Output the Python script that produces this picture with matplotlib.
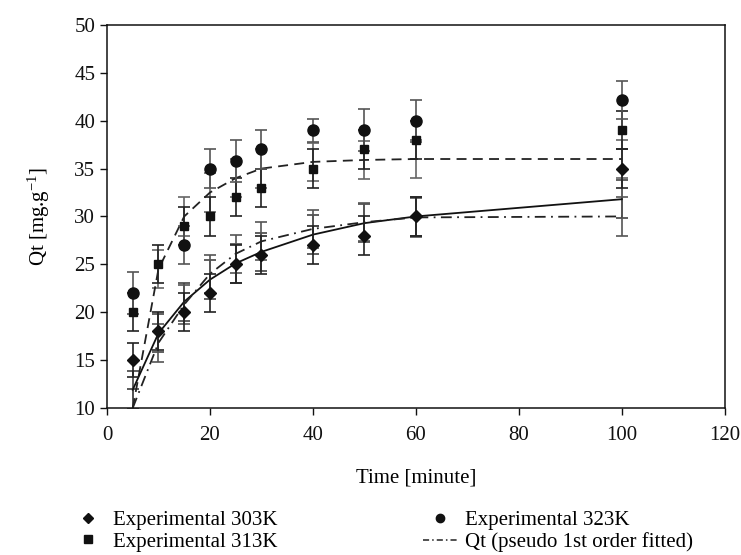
import numpy as np
import matplotlib
matplotlib.use("Agg")
import matplotlib.pyplot as plt
from matplotlib.lines import Line2D

plt.rcParams['font.family'] = ['Liberation Serif', 'DejaVu Serif']
plt.rcParams['mathtext.fontset'] = 'custom'
plt.rcParams['mathtext.rm'] = 'Liberation Serif'
plt.rcParams['mathtext.it'] = 'Liberation Serif:italic'

# Contact time (minutes)
time = [5, 10, 15, 20, 25, 30, 40, 50, 60, 100]

# Experimental uptake Qt (mg/g) at three temperatures
qt_303 = [15, 18, 20, 22, 25, 26, 27, 28, 30, 35]
qt_313 = [20, 25, 29, 30, 32, 33, 35, 37, 38, 39]
qt_323 = [22, np.nan, 27, 35, 35.8, 37, 39, 39, 40, 42.2]

err_303 = [1.8, 2.0, 2.0, 2.0, 2.0, 2.0, 2.0, 2.0, 2.0, 2.0]
err_313 = [2.0, 2.0, 2.0, 2.0, 2.0, 2.0, 2.0, 2.0, 2.0, 2.0]
err_323 = [2.2, 2.0, 2.0, 2.0, 2.2, 2.0, 1.2, 2.2, 2.2, 2.0]

# Fitted kinetic model curves
fit_dashed = [10, 24.5, 30, 32.5, 34, 35, 35.7, 35.9, 36, 36]
fit_solid = [11.9, 17.8, 21.1, 23.4, 25.1, 26.3, 28.1, 29.3, 30.0, 31.8]
fit_pfo = [10, 16.8, 20.8, 24.0, 26.1, 27.4, 28.7, 29.4, 29.9, 30.0]

err_dashed = [2.0] * 10
err_solid = [2.0] * 10
err_pfo = [2.0] * 10

fig = plt.figure(figsize=(7.41, 5.55), dpi=100)
ax = fig.add_axes([0.1444, 0.265, 0.978 - 0.1444, 0.955 - 0.265])

eb_kw = dict(fmt='none', capsize=4, elinewidth=1.2, capthick=1.2)

# Error bars on the fitted curves
ax.errorbar(time, fit_dashed, yerr=err_dashed, ecolor='#666666', **eb_kw)
ax.errorbar(time, fit_solid, yerr=err_solid, ecolor='#444444', **eb_kw)
ax.errorbar(time, fit_pfo, yerr=err_pfo, ecolor='#555555', **eb_kw)

# Fitted curves
ax.plot(time, fit_dashed, color='#222222', lw=1.3, ls=(0, (5.5, 3.5)))
ax.plot(time, fit_solid, color='#111111', lw=1.3, ls='-')
ax.plot(time, fit_pfo, color='#222222', lw=1.3, ls=(0, (6, 3, 1, 3)))

# Experimental data with error bars
ax.errorbar(time, qt_303, yerr=err_303, ecolor='#222222', **eb_kw)
ax.errorbar(time, qt_313, yerr=err_313, ecolor='#222222', **eb_kw)
ax.errorbar(time, qt_323, yerr=err_323, ecolor='#555555', **eb_kw)
ax.plot(time, qt_303, ls='none', marker='D', ms=6, color='#111111')
ax.plot(time, qt_313, ls='none', marker='s', ms=6.3, color='#111111')
ax.plot(time, qt_323, ls='none', marker='o', ms=8, color='#111111')

ax.set_xlim(0, 120)
ax.set_ylim(10, 50)
ax.set_xticks(range(0, 121, 20))
ax.set_yticks(range(10, 51, 5))
ax.tick_params(axis='both', direction='out', length=5, width=1, labelsize=15,
               colors='#111111')
ax.tick_params(axis='x', pad=8)
for s in ax.spines.values():
    s.set_linewidth(1.1)
    s.set_color('#111111')

ax.set_xlabel('Time [minute]', fontsize=15, labelpad=17)
ax.set_ylabel('Qt [mg.g$^{-1}$]', fontsize=15, labelpad=16)

handles = [
    Line2D([], [], ls='none', marker='D', ms=5.5, color='#111111'),
    Line2D([], [], ls='none', marker='s', ms=6, color='#111111'),
    Line2D([], [], ls='none', marker='o', ms=6, color='#111111'),
    Line2D([], [], color='#222222', lw=1.1, ls=(0, (4, 2, 1, 2))),
]
labels = ['Experimental 303K', 'Experimental 313K', 'Experimental 323K',
          'Qt (pseudo 1st order fitted)']
fig.legend(handles, labels, ncol=2, loc='upper left',
           bbox_to_anchor=(0.082, 0.099), frameon=False, fontsize=15,
           handlelength=1.6, handletextpad=0.4, columnspacing=7.0,
           labelspacing=0.1, borderpad=0)

fig.savefig('out.png', dpi=100)
